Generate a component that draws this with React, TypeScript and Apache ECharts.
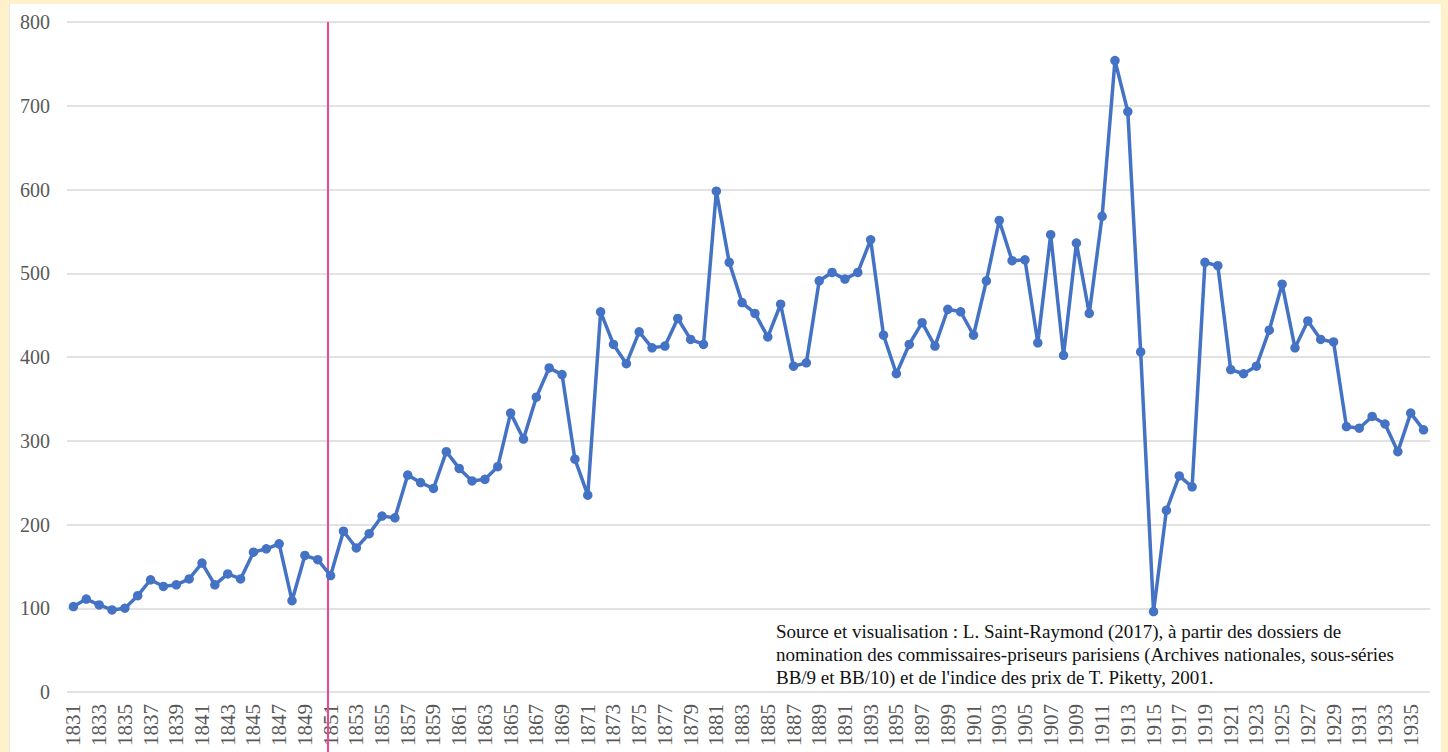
import React, { useEffect, useRef } from 'react';
import * as echarts from 'echarts';

const startYear = 1831;
const values = [
  102, 111, 104, 98, 100, 115, 134, 126, 128, 135,
  154, 128, 141, 135, 167, 171, 177, 109, 163, 158,
  139, 192, 172, 189, 210, 208, 259, 250, 243, 287,
  267, 252, 254, 269, 333, 302, 352, 387, 379, 278,
  235, 454, 415, 392, 430, 411, 413, 446, 421, 415,
  598, 513, 465, 452, 424, 463, 389, 393, 491, 501,
  493, 501, 540, 426, 380, 415, 441, 413, 457, 454,
  426, 491, 563, 515, 516, 417, 546, 402, 536, 452,
  568, 754, 693, 406, 96, 217, 258, 245, 513, 509,
  385, 380, 389, 432, 487, 411, 443, 421, 418, 317,
  315, 329, 320, 287, 333, 313,
];
const years: string[] = values.map((_, i) => String(startYear + i));
const yTicks = { min: 0, max: 800, interval: 100 };
const markerYear = '1851';
const sourceLines = [
  'Source et visualisation : L. Saint-Raymond (2017), à partir des dossiers de',
  "nomination des commissaires-priseurs parisiens (Archives nationales, sous-séries",
  "BB/9 et BB/10) et de l'indice des prix de T. Piketty, 2001.",
];

const FONT = '"Liberation Serif", "Times New Roman", serif';

export default function App() {
  const ref = useRef<HTMLDivElement>(null);
  useEffect(() => {
    if (!ref.current) return;
    const chart = echarts.init(ref.current, null, { renderer: 'svg' });
    chart.setOption({
      animation: false,
      backgroundColor: 'transparent',
      grid: { left: 67, right: 18, top: 22, bottom: 60 },
      xAxis: {
        type: 'category',
        data: years,
        boundaryGap: true,
        axisLine: { show: false },
        axisTick: { show: false },
        axisLabel: {
          rotate: 90,
          interval: 1,
          margin: 12,
          fontFamily: FONT,
          fontSize: 21,
          color: '#595959',
        },
      },
      yAxis: {
        type: 'value',
        min: yTicks.min,
        max: yTicks.max,
        interval: yTicks.interval,
        axisLine: { show: false },
        axisTick: { show: false },
        splitLine: { lineStyle: { color: '#d9d9d9', width: 1.5 } },
        axisLabel: { margin: 17, fontFamily: FONT, fontSize: 20, color: '#595959' },
      },
      series: [
        {
          type: 'line',
          data: values,
          symbol: 'circle',
          symbolSize: 9.5,
          showAllSymbol: true,
          lineStyle: { color: '#4472c4', width: 3.5 },
          itemStyle: { color: '#4472c4' },
        },
      ],
    });
    const mx = chart.convertToPixel({ xAxisIndex: 0 }, markerYear) as number;
    const x = Math.round(mx) - 3;
    chart.setOption({
      graphic: [
        {
          type: 'line',
          shape: { x1: x, y1: 22, x2: x, y2: 752 },
          style: { stroke: '#f2468c', lineWidth: 2 },
          z: 1,
        },
        {
          type: 'text',
          left: 776,
          top: 620,
          style: {
            text: sourceLines.join('\n'),
            font: `19px ${FONT}`,
            lineHeight: 23,
            fill: '#111111',
          },
          z: 10,
        },
      ],
    });
    return () => chart.dispose();
  }, []);
  return (
    <div style={{ position: 'fixed', left: 0, top: 0, width: 1448, height: 752, background: '#fef1cb', overflow: 'hidden' }}>
      <div style={{ position: 'absolute', left: 9, top: 4, width: 1431, height: 760, background: '#ffffff', borderLeft: '1px solid #e6e6e6' }} />
      <div ref={ref} style={{ position: 'absolute', left: 0, top: 0, width: 1448, height: 752 }} />
    </div>
  );
}
